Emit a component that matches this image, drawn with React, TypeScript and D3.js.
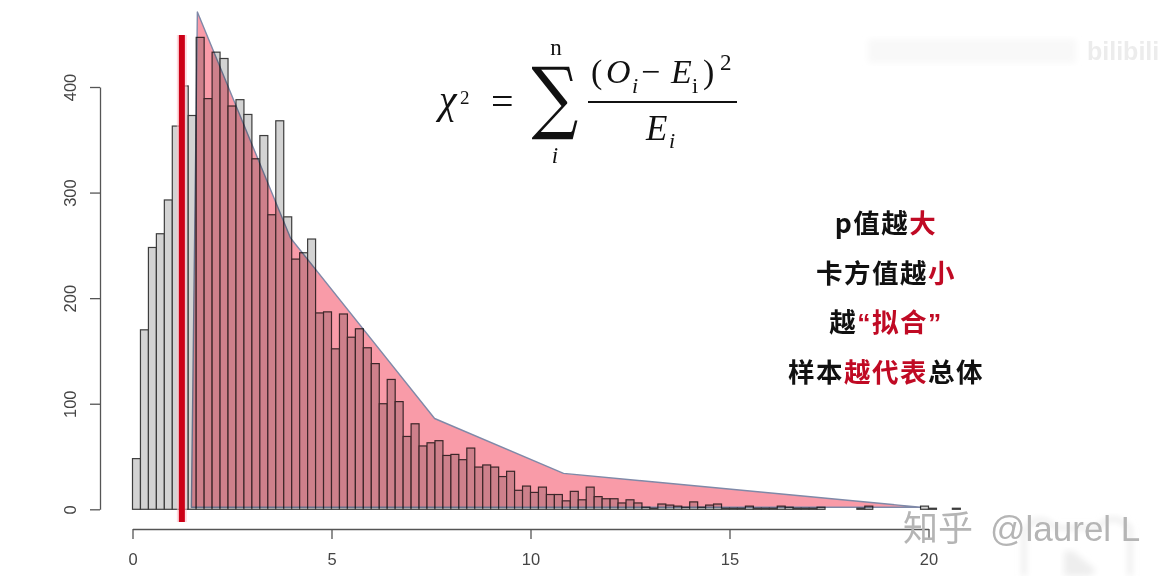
import React, { useRef, useEffect } from "react";
import * as d3 from "d3";

const WIDTH = 1168;
const HEIGHT = 576;
const BIN_WIDTH = 0.2;

// sample histogram, bins of 0.2 starting at 0
const counts = [
  48, 170, 248, 261, 293, 363, 401, 373, 447, 389, 433, 427, 382, 388, 374, 332, 354, 279, 368, 277,
  237, 243, 256, 186, 187, 152, 185, 163, 171, 153, 138, 100, 123, 102, 69, 81, 60, 63, 65, 51,
  52, 47, 58, 40, 42, 40, 31, 36, 18, 22, 16, 21, 14, 14, 8, 17, 9, 21, 12, 10,
  10, 6, 9, 6, 2, 1, 5, 4, 3, 2, 7, 2, 4, 5, 1, 1, 1, 3, 1, 1,
  1, 3, 2, 1, 1, 1, 2, 0, 0, 0, 0, 1, 3, 0, 0, 0, 0, 0, 0, 3,
  1, 0, 0, 1,
];

// theoretical distribution outline (x, count)
const curveX = [1.48, 1.63, 3.97, 7.59, 10.83, 19.8];
const curveY = [2, 471, 257, 86, 34, 2];

const xTicks = [0, 5, 10, 15, 20];
const yTicks = [0, 100, 200, 300, 400];
const criticalValue = 1.24;

const SANS = "'Liberation Sans', sans-serif";

const notes: { text: string; red: boolean; latin?: boolean }[][] = [
  [{ text: "p值越", red: false }, { text: "大", red: true }],
  [{ text: "卡方值越", red: false }, { text: "小", red: true }],
  [
    { text: "越", red: false },
    { text: "“", red: true, latin: true },
    { text: "拟合", red: true },
    { text: "”", red: true, latin: true },
  ],
  [
    { text: "样本", red: false },
    { text: "越代表", red: true },
    { text: "总体", red: false },
  ],
];

const App: React.FC = () => {
  const xAxisRef = useRef<SVGGElement | null>(null);
  const yAxisRef = useRef<SVGGElement | null>(null);

  const x = d3.scaleLinear().domain([0, 20]).range([132.5, 928.5]);
  const y = d3.scaleLinear().domain([0, 400]).range([509.3, 87]);

  useEffect(() => {
    if (!xAxisRef.current || !yAxisRef.current) return;

    const xAxis = d3.axisBottom(x).tickValues(xTicks).tickSize(10).tickSizeOuter(0).tickPadding(14);
    const yAxis = d3.axisLeft(y).tickValues(yTicks).tickSize(10).tickSizeOuter(0).tickPadding(0);

    const gx = d3.select(xAxisRef.current).call(xAxis as any);
    const gy = d3.select(yAxisRef.current).call(yAxis as any);

    [gx, gy].forEach((g: any) => {
      g.selectAll("path,line").attr("stroke", "#555").attr("stroke-width", 1.3);
      g.selectAll("text")
        .attr("fill", "#444")
        .style("font-family", SANS)
        .style("font-size", "16.5px");
    });

    // R style: labels on the y axis are turned
    gy.selectAll("text")
      .attr("x", 0)
      .attr("dy", 0)
      .attr("y", 0)
      .attr("text-anchor", "middle")
      .attr("transform", "translate(-24,0) rotate(-90)");
  }, []);

  const outline = d3
    .line<number>()
    .x((d) => x(d))
    .y((_, i) => y(curveY[i]));

  return (
    <svg
      width={WIDTH}
      height={HEIGHT}
      style={{ position: "absolute", left: 0, top: 0, background: "#fff" }}
    >
      <defs>
        <filter id="soft">
          <feGaussianBlur stdDeviation="0.35" />
        </filter>
        <filter id="wide">
          <feGaussianBlur stdDeviation="3" />
        </filter>
      </defs>

      <g filter="url(#soft)">
        <g>
          {counts.map((c, i) => (
            <rect
              key={i}
              x={x(i * BIN_WIDTH)}
              y={y(c)}
              width={x(BIN_WIDTH) - x(0)}
              height={y(0) - y(c)}
              fill="#d3d3d3"
              stroke="#3d3d3d"
              strokeWidth={1.2}
            />
          ))}
        </g>

        {/* multiply so the bars stay visible under the pink area */}
        <path
          d={outline(curveX)! + "Z"}
          fill="#f99ba8"
          stroke="#7f89a8"
          strokeWidth={1.4}
          strokeLinejoin="round"
          style={{ mixBlendMode: "multiply" }}
        />

        <rect
          x={x(criticalValue) - 5}
          y={35}
          width={10}
          height={487}
          fill="#fbc4cc"
          opacity={0.6}
        />
        <rect x={x(criticalValue) - 3} y={35} width={6} height={487} fill="#cc0018" />

        <g ref={xAxisRef} transform={`translate(0,${529})`} />
        <g ref={yAxisRef} transform={`translate(${100},0)`} />
      </g>

      {/* chi square formula */}
      <g fill="#111" fontFamily="'Liberation Serif', 'DejaVu Serif', serif">
        <text x={439} y={113} fontSize={40} fontStyle="italic">χ</text>
        <text x={460} y={104} fontSize={19}>2</text>
        <text x={491} y={115} fontSize={40}>=</text>
        <text
          transform="translate(555,124) scale(0.78,0.95)"
          fontSize={84}
          textAnchor="middle"
          fontFamily="'DejaVu Serif', serif"
        >
          ∑
        </text>
        <text x={556} y={55} fontSize={23} textAnchor="middle">n</text>
        <text x={555} y={163} fontSize={23} fontStyle="italic" textAnchor="middle">i</text>

        <text x={591} y={83} fontSize={34}>(</text>
        <text x={606} y={83} fontSize={34} fontStyle="italic">O</text>
        <text x={632} y={93} fontSize={22} fontStyle="italic">i</text>
        <text x={641} y={83} fontSize={34}>−</text>
        <text x={671} y={83} fontSize={34} fontStyle="italic">E</text>
        <text x={692} y={93} fontSize={22}>i</text>
        <text x={703} y={83} fontSize={34}>)</text>
        <text x={720} y={70} fontSize={23}>2</text>
        <line x1={588} x2={737} y1={102} y2={102} stroke="#111" strokeWidth={1.8} />
        <text x={646} y={140} fontSize={35} fontStyle="italic">E</text>
        <text x={669} y={148} fontSize={22} fontStyle="italic">i</text>
      </g>

      {/* notes on the right */}
      <g
        fontFamily="'Noto Sans CJK SC', sans-serif"
        fontSize={26.5}
        fontWeight={700}
        letterSpacing={1.5}
        textAnchor="middle"
      >
        {notes.map((parts, i) => (
          <text key={i} x={886} y={233 + i * 49.7}>
            {parts.map((p, j) => (
              <tspan
                key={j}
                fill={p.red ? "#c00a24" : "#111"}
                fontFamily={p.latin ? SANS : undefined}
              >
                {p.text}
              </tspan>
            ))}
          </text>
        ))}
      </g>

      {/* watermarks */}
      <rect x={868} y={39} width={208} height={24} rx={3} fill="#f8f8f8" filter="url(#wide)" />
      <text x={1087} y={60} fontFamily={SANS} fontWeight={700} fontSize={25} fill="#ececec">
        bilibili
      </text>
      <path
        d="M1024,576 L1024,532 Q1036,510 1056,528 L1098,528 Q1112,510 1130,528 L1130,576"
        fill="#fff"
        stroke="#e2e2e2"
        strokeWidth={3}
        filter="url(#wide)"
      />
      <path d="M1064,554 Q1066,548 1074,552 L1096,570 L1090,576 L1064,576 Z" fill="#eee" filter="url(#wide)" />
      <text x={903} y={541} fontFamily="'Noto Sans CJK SC', sans-serif" fontSize={35} fill="#b5b5b5">
        知乎
      </text>
      <text x={990} y={541} fontFamily={SANS} fontSize={35} fill="#b5b5b5">
        @laurel L
      </text>
    </svg>
  );
};

export default App;
